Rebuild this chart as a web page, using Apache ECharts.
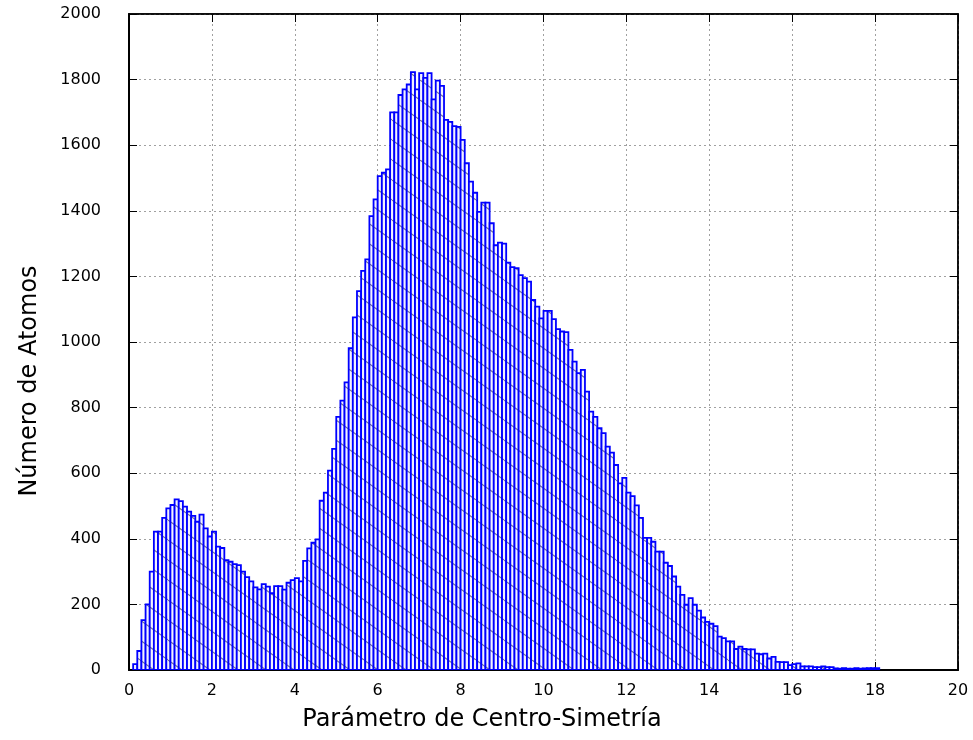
<!DOCTYPE html>
<html>
<head>
<meta charset="utf-8">
<script src="https://cdn.jsdelivr.net/npm/echarts@6/dist/echarts.min.js"></script>
<style>
  html, body { margin: 0; padding: 0; background: #ffffff; }
  #chart { width: 973px; height: 740px; }
</style>
</head>
<body>
<div id="chart"></div>
<script>
// Histogram of the centro-symmetry parameter: bins of width 0.1 starting at 0.
const binStart = 0;
const binWidth = 0.1;

// Atom counts per bin, from the bin [0,0.1) up to [18.0,18.1)
const counts = [
  0, 18, 58, 152, 200, 300, 422, 422, 464, 493,
  503, 520, 515, 498, 483, 470, 452, 474, 432, 407,
  422, 376, 372, 335, 330, 323, 320, 300, 283, 270,
  252, 246, 262, 254, 234, 256, 256, 245, 266, 274,
  280, 270, 333, 371, 388, 398, 516, 541, 608, 674,
  772, 821, 877, 981, 1075, 1155, 1217, 1252, 1384, 1435,
  1506, 1516, 1526, 1700, 1700, 1753, 1770, 1785, 1823, 1770,
  1820, 1805, 1820, 1740, 1797, 1781, 1677, 1671, 1658, 1656,
  1616, 1545, 1489, 1455, 1397, 1425, 1425, 1362, 1295, 1303,
  1300, 1242, 1228, 1225, 1204, 1195, 1184, 1128, 1108, 1072,
  1095, 1095, 1070, 1039, 1032, 1030, 976, 940, 905, 915,
  849, 788, 772, 737, 722, 681, 663, 625, 569, 586,
  541, 530, 502, 464, 403, 403, 391, 361, 361, 327,
  317, 285, 254, 229, 199, 219, 199, 181, 160, 147,
  141, 134, 102, 97, 87, 87, 64, 71, 64, 63,
  63, 50, 48, 50, 35, 40, 25, 24, 24, 15,
  18, 20, 11, 11, 11, 9, 9, 11, 9, 9,
  5, 4, 6, 4, 4, 6, 4, 5, 6, 6,
  6
];

const xTicks = [0, 20, 2];      // min, max, step
const yTicks = [0, 2000, 200];  // min, max, step

const xTitle = 'Parámetro de Centro-Simetría';
const yTitle = 'Número de Atomos';

// [bin centre, count] pairs for the custom series
const seriesData = counts.map((c, i) => [binStart + (i + 0.5) * binWidth, c]);

// Diagonal hatching tile used to fill every box
function makeHatch() {
  const w = 28, h = 20;
  const cv = document.createElement('canvas');
  cv.width = w; cv.height = h;
  const ctx = cv.getContext('2d');
  ctx.fillStyle = '#f2f2ff';
  ctx.fillRect(0, 0, w, h);
  ctx.strokeStyle = 'rgba(80,80,120,0.8)';
  ctx.lineWidth = 1.1;
  ctx.beginPath();
  for (let k = -1; k <= 1; k++) {
    ctx.moveTo(0 + k * w, 0);
    ctx.lineTo(w + k * w, h);
  }
  ctx.stroke();
  return cv;
}
const hatch = { image: makeHatch(), repeat: 'repeat' };

const FONT = 'DejaVu Sans';
const plain = v => String(v);

const chart = echarts.init(document.getElementById('chart'), null, { renderer: 'canvas' });

const valueAxisBase = {
  type: 'value',
  axisLine: { show: true, onZero: false, lineStyle: { color: '#000', width: 1.5 } },
  axisTick: { show: true, inside: true, length: 8, lineStyle: { color: '#000', width: 1 } },
  splitLine: { show: false }
};

chart.setOption({
  animation: false,
  backgroundColor: '#ffffff',
  grid: {
    left: 129, right: 15, top: 14, bottom: 70,
    show: true, borderColor: '#000', borderWidth: 1.5, backgroundColor: 'transparent'
  },
  // Axis titles, centred on the page the way the plotting tool lays them out
  graphic: [
    {
      type: 'text',
      x: 482, y: 720,
      style: {
        text: xTitle, fontFamily: FONT, fontSize: 24, fill: '#000',
        align: 'center', verticalAlign: 'middle'
      }
    },
    {
      type: 'text',
      x: 30, y: 381,
      rotation: Math.PI / 2,
      style: {
        text: yTitle, fontFamily: FONT, fontSize: 24, fill: '#000',
        align: 'center', verticalAlign: 'middle'
      }
    }
  ],
  xAxis: [
    Object.assign({}, valueAxisBase, {
      min: xTicks[0], max: xTicks[1], interval: xTicks[2],
      position: 'bottom',
      axisLine: { show: true, onZero: false, lineStyle: { color: '#000', width: 2 } },
      axisLabel: { fontFamily: FONT, fontSize: 16, color: '#000', margin: 13, formatter: plain },
      splitLine: { show: true, lineStyle: { color: '#a0a0a0', type: [2, 3], width: 1 } }
    }),
    Object.assign({}, valueAxisBase, {
      min: xTicks[0], max: xTicks[1], interval: xTicks[2],
      position: 'top',
      axisLabel: { show: false }
    })
  ],
  yAxis: [
    Object.assign({}, valueAxisBase, {
      min: yTicks[0], max: yTicks[1], interval: yTicks[2],
      position: 'left',
      axisLine: { show: true, onZero: false, lineStyle: { color: '#000', width: 2 } },
      axisLabel: { fontFamily: FONT, fontSize: 16, color: '#000', margin: 28, formatter: plain },
      splitLine: { show: true, lineStyle: { color: '#a0a0a0', type: [2, 3], width: 1 } }
    }),
    Object.assign({}, valueAxisBase, {
      min: yTicks[0], max: yTicks[1], interval: yTicks[2],
      position: 'right',
      axisLabel: { show: false }
    })
  ],
  series: [{
    type: 'custom',
    xAxisIndex: 0,
    yAxisIndex: 0,
    clip: true,
    data: seriesData,
    renderItem: function (params, api) {
      const x = api.value(0);
      const v = api.value(1);
      if (!v) return null;
      const topLeft = api.coord([x - binWidth / 2, v]);
      const bottomRight = api.coord([x + binWidth / 2, 0]);
      return {
        type: 'rect',
        shape: {
          x: topLeft[0],
          y: topLeft[1],
          width: bottomRight[0] - topLeft[0],
          height: bottomRight[1] - topLeft[1]
        },
        style: { fill: hatch, stroke: '#0000ff', lineWidth: 1.8 }
      };
    }
  }]
});
</script>
</body>
</html>
